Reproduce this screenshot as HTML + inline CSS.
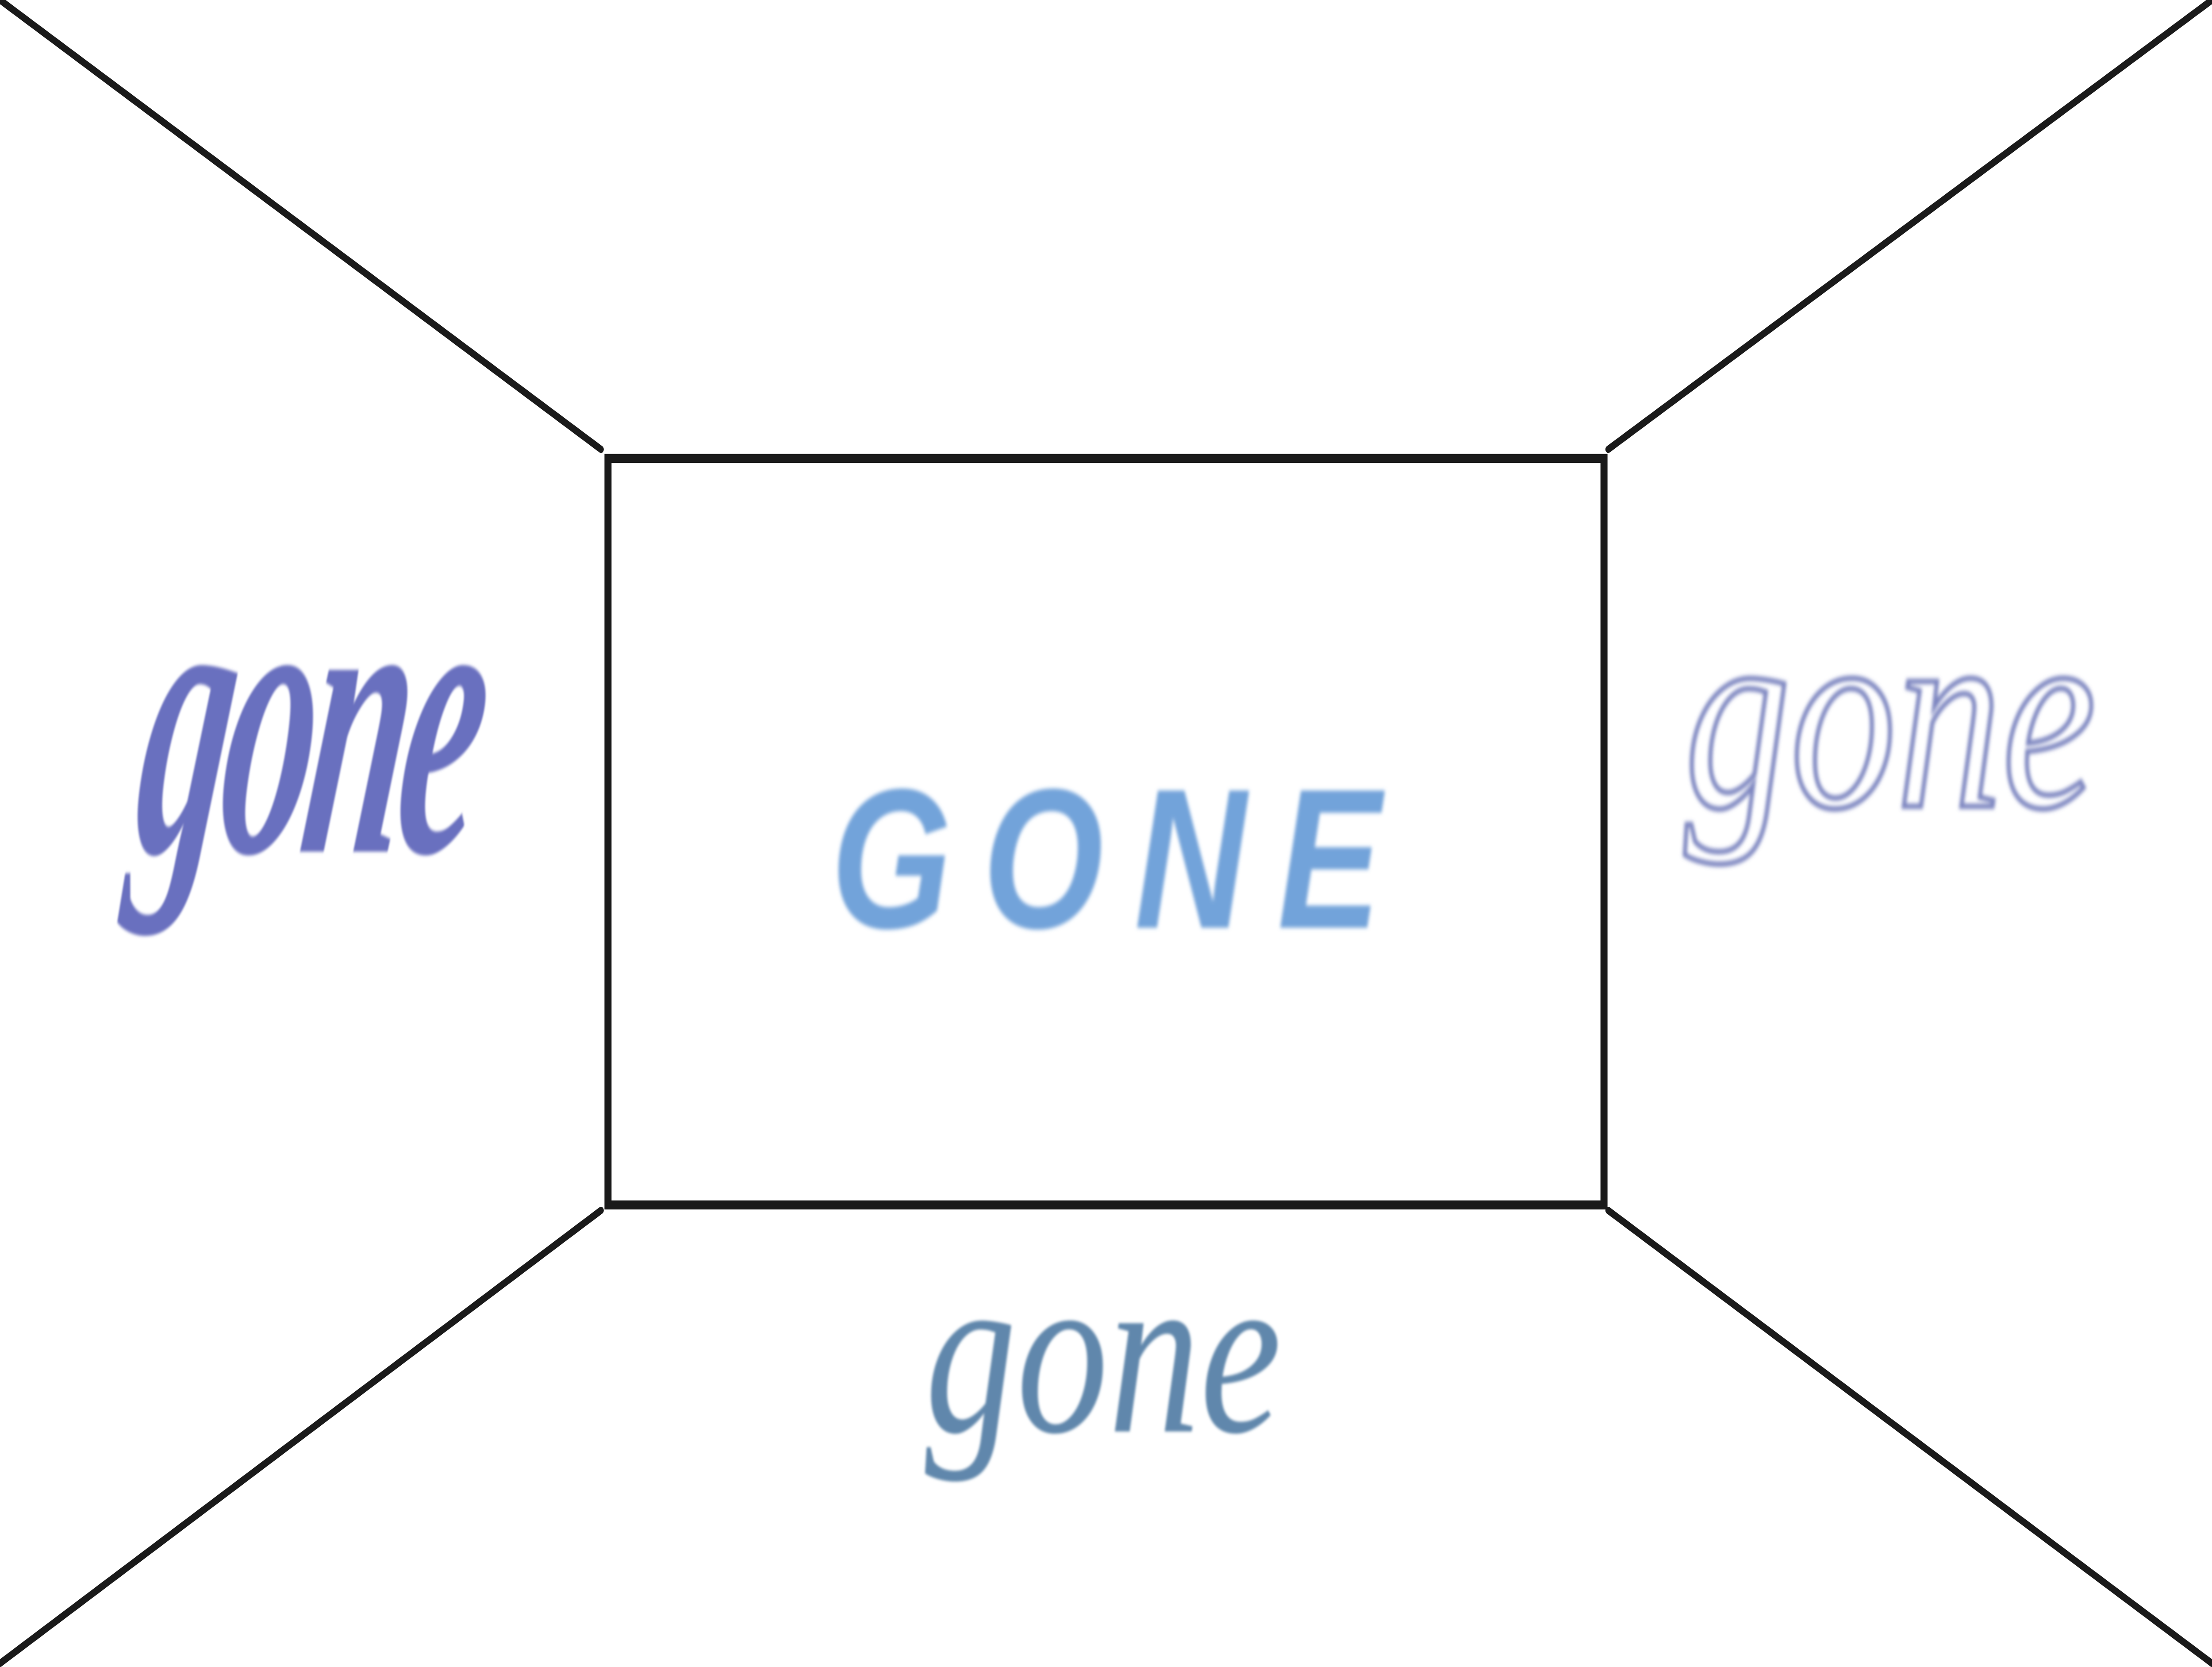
<!DOCTYPE html>
<html>
<head>
<meta charset="utf-8">
<style>
  html,body{margin:0;padding:0;background:#fff;width:100%;height:100%;overflow:hidden;}
  svg{display:block;width:100vw;height:100vh;}
</style>
</head>
<body>
<svg viewBox="0 0 1568 920" preserveAspectRatio="none" xmlns="http://www.w3.org/2000/svg">
  <defs>
    <filter id="blur1" x="-10%" y="-10%" width="120%" height="120%"><feGaussianBlur stdDeviation="1.2"/></filter>
    <filter id="blur2" x="-10%" y="-10%" width="120%" height="120%"><feGaussianBlur stdDeviation="0.8"/></filter>
  </defs>
  <rect x="0" y="0" width="1568" height="920" fill="#ffffff"/>
  <g stroke="#1a1a1a" stroke-linecap="round" fill="none">
    <line x1="0" y1="0" x2="426" y2="248" stroke-width="4"/>
    <line x1="1568" y1="0" x2="1140" y2="248" stroke-width="4"/>
    <line x1="0" y1="918" x2="426" y2="668" stroke-width="4"/>
    <line x1="1568" y1="918" x2="1140" y2="668" stroke-width="4"/>
    <rect x="431" y="253" width="706" height="412" stroke-width="5"/>
  </g>
  <g transform="translate(210,470) scale(0.68,1.15) skewX(-15)" filter="url(#blur2)">
    <text x="0" y="0" text-anchor="middle" font-family="Liberation Serif, serif" font-style="italic" font-weight="bold" font-size="190" fill="#5a5fb8" fill-opacity="0.9" letter-spacing="-8">gone</text>
  </g>
  <g filter="url(#blur1)">
    <text x="795" y="512" text-anchor="middle" font-family="Liberation Sans, sans-serif" font-style="italic" font-weight="bold" font-size="110" fill="#5b93d4" fill-opacity="0.85" letter-spacing="22">GONE</text>
  </g>
  <g filter="url(#blur1)">
    <text x="1340" y="445" text-anchor="middle" font-family="Liberation Serif, serif" font-style="italic" font-size="150" fill="none" stroke="#5d68b0" stroke-width="3" stroke-opacity="0.8">gone</text>
  </g>
  <g filter="url(#blur2)">
    <text x="782" y="790" text-anchor="middle" font-family="Liberation Serif, serif" font-style="italic" font-size="130" fill="#4f7aa3" fill-opacity="0.9">gone</text>
  </g>
</svg>
</body>
</html>
